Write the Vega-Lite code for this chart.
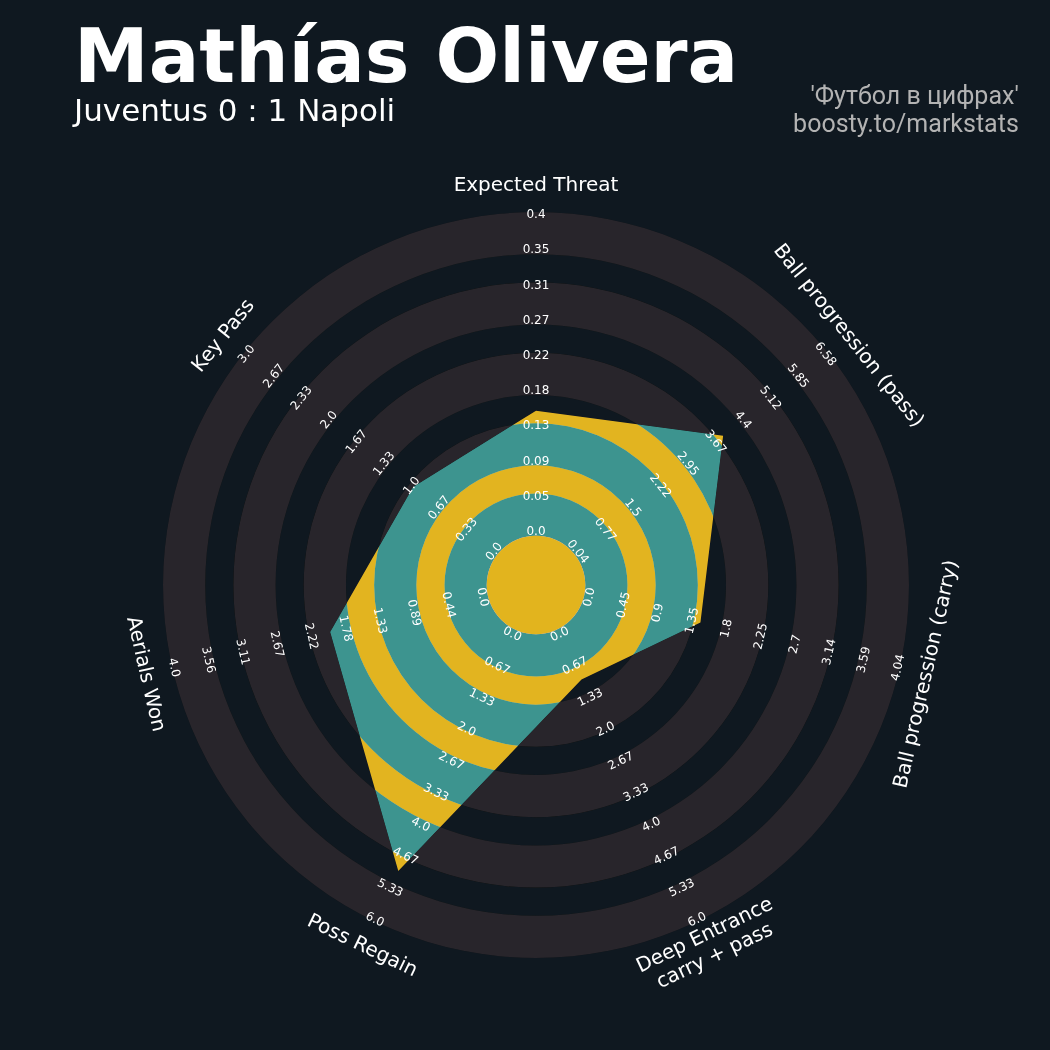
{
  "$schema": "https://vega.github.io/schema/vega-lite/v6.json",
  "width": 746,
  "height": 746,
  "autosize": {"type": "none"},
  "padding": {"left": 163, "top": 212, "right": 141, "bottom": 92},
  "background": "#0f1820",
  "config": {"view": {"stroke": null}, "font": "DejaVu Sans"},
  "datasets": {
    "params": [
      {"i": 0, "param": "Expected Threat", "value": 0.1545, "lo": 0, "hi": 0.4},
      {"i": 1, "param": "Ball progression (pass)", "value": 3.88, "lo": 0.04, "hi": 6.58},
      {"i": 2, "param": "Ball progression (carry)", "value": 1.49, "lo": 0, "hi": 4.04},
      {"i": 3, "param": "Deep Entrance\ncarry + pass", "value": 1.03, "lo": 0, "hi": 6},
      {"i": 4, "param": "Poss Regain", "value": 4.97, "lo": 0, "hi": 6},
      {"i": 5, "param": "Aerials Won", "value": 2.0, "lo": 0, "hi": 4},
      {"i": 6, "param": "Key Pass", "value": 1.0, "lo": 0, "hi": 3}
    ],
    "rings": [
      {"r0": 0, "r1": 3.5, "kind": "center"},
      {"r0": 3.5, "r1": 6.5, "kind": "ring"},
      {"r0": 6.5, "r1": 8.5, "kind": "gap"},
      {"r0": 8.5, "r1": 11.5, "kind": "ring"},
      {"r0": 11.5, "r1": 13.5, "kind": "gap"},
      {"r0": 13.5, "r1": 16.5, "kind": "ring"},
      {"r0": 16.5, "r1": 18.5, "kind": "gap"},
      {"r0": 18.5, "r1": 21.5, "kind": "ring"},
      {"r0": 21.5, "r1": 23.5, "kind": "gap"},
      {"r0": 23.5, "r1": 26.5, "kind": "ring"}
    ],
    "ticks": [
      {"i":0,"k":0,"label":"0.0"},{"i":0,"k":1,"label":"0.05"},{"i":0,"k":2,"label":"0.09"},{"i":0,"k":3,"label":"0.13"},{"i":0,"k":4,"label":"0.18"},{"i":0,"k":5,"label":"0.22"},{"i":0,"k":6,"label":"0.27"},{"i":0,"k":7,"label":"0.31"},{"i":0,"k":8,"label":"0.35"},{"i":0,"k":9,"label":"0.4"},
      {"i":1,"k":0,"label":"0.04"},{"i":1,"k":1,"label":"0.77"},{"i":1,"k":2,"label":"1.5"},{"i":1,"k":3,"label":"2.22"},{"i":1,"k":4,"label":"2.95"},{"i":1,"k":5,"label":"3.67"},{"i":1,"k":6,"label":"4.4"},{"i":1,"k":7,"label":"5.12"},{"i":1,"k":8,"label":"5.85"},{"i":1,"k":9,"label":"6.58"},
      {"i":2,"k":0,"label":"0.0"},{"i":2,"k":1,"label":"0.45"},{"i":2,"k":2,"label":"0.9"},{"i":2,"k":3,"label":"1.35"},{"i":2,"k":4,"label":"1.8"},{"i":2,"k":5,"label":"2.25"},{"i":2,"k":6,"label":"2.7"},{"i":2,"k":7,"label":"3.14"},{"i":2,"k":8,"label":"3.59"},{"i":2,"k":9,"label":"4.04"},
      {"i":3,"k":0,"label":"0.0"},{"i":3,"k":1,"label":"0.67"},{"i":3,"k":2,"label":"1.33"},{"i":3,"k":3,"label":"2.0"},{"i":3,"k":4,"label":"2.67"},{"i":3,"k":5,"label":"3.33"},{"i":3,"k":6,"label":"4.0"},{"i":3,"k":7,"label":"4.67"},{"i":3,"k":8,"label":"5.33"},{"i":3,"k":9,"label":"6.0"},
      {"i":4,"k":0,"label":"0.0"},{"i":4,"k":1,"label":"0.67"},{"i":4,"k":2,"label":"1.33"},{"i":4,"k":3,"label":"2.0"},{"i":4,"k":4,"label":"2.67"},{"i":4,"k":5,"label":"3.33"},{"i":4,"k":6,"label":"4.0"},{"i":4,"k":7,"label":"4.67"},{"i":4,"k":8,"label":"5.33"},{"i":4,"k":9,"label":"6.0"},
      {"i":5,"k":0,"label":"0.0"},{"i":5,"k":1,"label":"0.44"},{"i":5,"k":2,"label":"0.89"},{"i":5,"k":3,"label":"1.33"},{"i":5,"k":4,"label":"1.78"},{"i":5,"k":5,"label":"2.22"},{"i":5,"k":6,"label":"2.67"},{"i":5,"k":7,"label":"3.11"},{"i":5,"k":8,"label":"3.56"},{"i":5,"k":9,"label":"4.0"},
      {"i":6,"k":0,"label":"0.0"},{"i":6,"k":1,"label":"0.33"},{"i":6,"k":2,"label":"0.67"},{"i":6,"k":3,"label":"1.0"},{"i":6,"k":4,"label":"1.33"},{"i":6,"k":5,"label":"1.67"},{"i":6,"k":6,"label":"2.0"},{"i":6,"k":7,"label":"2.33"},{"i":6,"k":8,"label":"2.67"},{"i":6,"k":9,"label":"3.0"}
    ]
  },
  "layer": [
    {
      "data": {"values": [{"r": 26.5}]},
      "mark": {"type": "arc", "theta": 0, "theta2": 6.2832, "fill": "#0f1820"},
      "encoding": {
        "radius": {"field": "r", "type": "quantitative", "scale": {"type": "linear", "domain": [0, 26.5], "range": [0, 373], "zero": true, "nice": false}}
      }
    },
    {
      "data": {"name": "params"},
      "transform": [
        {"calculate": "datum.i * 360 / 7", "as": "ang"},
        {"calculate": "3.5 + 23 * (datum.value - datum.lo) / (datum.hi - datum.lo)", "as": "r"},
        {"calculate": "datum.r * sin(datum.ang * PI / 180)", "as": "px"},
        {"calculate": "datum.r * cos(datum.ang * PI / 180)", "as": "py"}
      ],
      "mark": {"type": "line", "interpolate": "linear-closed", "fill": "#ffffff", "stroke": "#ffffff", "strokeWidth": 0},
      "encoding": {
        "x": {"field": "px", "type": "quantitative", "scale": {"domain": [-26.5, 26.5], "nice": false, "zero": false}, "axis": null},
        "y": {"field": "py", "type": "quantitative", "scale": {"domain": [-26.5, 26.5], "nice": false, "zero": false}, "axis": null},
        "order": {"field": "i", "type": "quantitative"}
      }
    },
    {
      "data": {"name": "rings"},
      "mark": {"type": "arc", "theta": 0, "theta2": 6.2832, "blend": "multiply"},
      "encoding": {
        "radius": {"field": "r1", "type": "quantitative", "scale": {"type": "linear", "domain": [0, 26.5], "range": [0, 373], "zero": true, "nice": false}},
        "radius2": {"field": "r0"},
        "color": {"condition": {"test": "datum.kind === 'ring'", "value": "#3d948f"}, "value": "#e2b41e"}
      }
    },
    {
      "data": {"name": "rings"},
      "mark": {"type": "arc", "theta": 0, "theta2": 6.2832, "blend": "lighten"},
      "encoding": {
        "radius": {"field": "r1", "type": "quantitative", "scale": {"type": "linear", "domain": [0, 26.5], "range": [0, 373], "zero": true, "nice": false}},
        "radius2": {"field": "r0"},
        "color": {"condition": [{"test": "datum.kind === 'ring'", "value": "#28252b"}, {"test": "datum.kind === 'center'", "value": "#e2b41e"}], "value": "#0f1820"}
      }
    },
    {
      "data": {"name": "ticks"},
      "transform": [
        {"calculate": "datum.i * 360 / 7", "as": "ang"},
        {"calculate": "datum.ang > 90 && datum.ang < 270 ? datum.ang + 180 : datum.ang", "as": "rot"},
        {"calculate": "3.837 + 2.501 * datum.k", "as": "rr"}
      ],
      "mark": {"type": "text", "fontSize": 12, "color": "#ffffff", "align": "center", "baseline": "middle", "font": "DejaVu Sans"},
      "encoding": {
        "theta": {"field": "ang", "type": "quantitative", "scale": {"domain": [0, 360]}, "stack": null},
        "radius": {"field": "rr", "type": "quantitative", "scale": {"type": "linear", "domain": [0, 26.5], "range": [0, 373], "zero": true, "nice": false}},
        "angle": {"field": "rot", "type": "quantitative", "scale": null},
        "text": {"field": "label"}
      }
    },
    {
      "data": {"name": "params"},
      "transform": [
        {"filter": "datum.i !== 3"},
        {"calculate": "datum.i * 360 / 7", "as": "ang"},
        {"calculate": "datum.ang > 90 && datum.ang < 270 ? datum.ang + 180 : datum.ang", "as": "rot"}
      ],
      "mark": {"type": "text", "fontSize": 20, "color": "#ffffff", "align": "center", "baseline": "middle", "font": "DejaVu Sans"},
      "encoding": {
        "theta": {"field": "ang", "type": "quantitative", "scale": {"domain": [0, 360]}, "stack": null},
        "radius": {"datum": 28.42, "type": "quantitative", "scale": {"type": "linear", "domain": [0, 26.5], "range": [0, 373], "zero": true, "nice": false}},
        "angle": {"field": "rot", "type": "quantitative", "scale": null},
        "text": {"field": "param"}
      }
    },
    {
      "data": {"name": "params"},
      "transform": [
        {"filter": "datum.i === 3"},
        {"calculate": "datum.i * 360 / 7", "as": "ang"},
        {"calculate": "datum.ang > 90 && datum.ang < 270 ? datum.ang + 180 : datum.ang", "as": "rot"}
      ],
      "mark": {"type": "text", "fontSize": 20, "color": "#ffffff", "align": "center", "baseline": "middle", "font": "DejaVu Sans", "lineBreak": "\n", "lineHeight": 23, "dy": -11.5},
      "encoding": {
        "theta": {"field": "ang", "type": "quantitative", "scale": {"domain": [0, 360]}, "stack": null},
        "radius": {"datum": 28.42, "type": "quantitative", "scale": {"type": "linear", "domain": [0, 26.5], "range": [0, 373], "zero": true, "nice": false}},
        "angle": {"field": "rot", "type": "quantitative", "scale": null},
        "text": {"field": "param"}
      }
    },
    {
      "data": {"values": [{"t": "Mathías Olivera"}]},
      "mark": {"type": "text", "fontSize": 75, "fontWeight": "bold", "color": "#ffffff", "align": "left", "baseline": "alphabetic", "font": "DejaVu Sans"},
      "encoding": {
        "x": {"datum": -32.82, "type": "quantitative"},
        "y": {"datum": 35.74, "type": "quantitative"},
        "text": {"field": "t"}
      }
    },
    {
      "data": {"values": [{"t": "Juventus 0 : 1 Napoli"}]},
      "mark": {"type": "text", "fontSize": 31, "color": "#ffffff", "align": "left", "baseline": "alphabetic", "font": "DejaVu Sans"},
      "encoding": {
        "x": {"datum": -32.82, "type": "quantitative"},
        "y": {"datum": 32.97, "type": "quantitative"},
        "text": {"field": "t"}
      }
    },
    {
      "data": {"values": [{"t": "'Футбол в цифрах'"}]},
      "mark": {"type": "text", "fontSize": 25, "color": "#b3b3b3", "align": "right", "baseline": "alphabetic", "font": "Roboto"},
      "encoding": {
        "x": {"datum": 34.3, "type": "quantitative"},
        "y": {"datum": 34.15, "type": "quantitative"},
        "text": {"field": "t"}
      }
    },
    {
      "data": {"values": [{"t": "boosty.to/markstats"}]},
      "mark": {"type": "text", "fontSize": 25, "color": "#b3b3b3", "align": "right", "baseline": "alphabetic", "font": "Roboto"},
      "encoding": {
        "x": {"datum": 34.3, "type": "quantitative"},
        "y": {"datum": 32.2, "type": "quantitative"},
        "text": {"field": "t"}
      }
    }
  ]
}
